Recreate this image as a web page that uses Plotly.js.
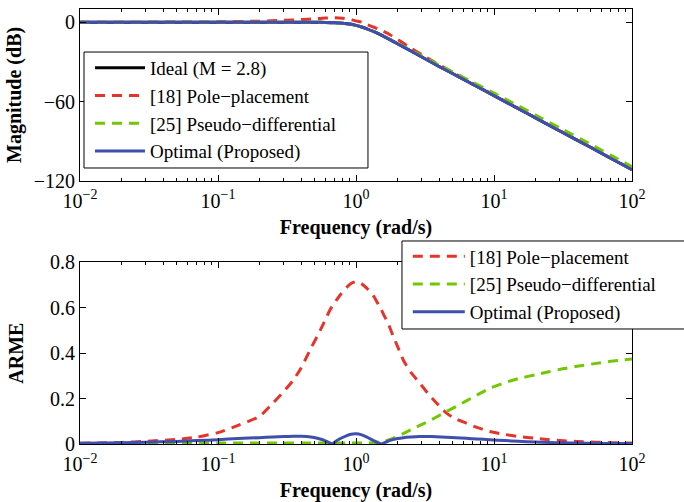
<!DOCTYPE html>
<html>
<head>
<meta charset="utf-8">
<script src="https://cdn.plot.ly/plotly-3.0.1.min.js"></script>
<style>
html,body{margin:0;padding:0;background:#fff;}
#plot{width:684px;height:502px;}
</style>
</head>
<body>
<div id="plot"></div>
<script>
// ---------- Data ----------
// Top panel: magnitude (dB) vs frequency (rad/s)
var freqMag = [0.01, 0.03, 0.1, 0.2, 0.3, 0.4, 0.5, 0.6, 0.7, 0.8, 0.9, 1.0, 1.1, 1.2, 1.35, 1.5, 1.75, 2, 2.5, 3, 4, 5, 7, 10, 15, 20, 30, 50, 70, 100];
var magIdeal   = [0, 0, 0, 0, 0, -0.02, -0.05, -0.15, -0.35, -0.75, -1.4, -2.4, -3.6, -5.0, -7.2, -9.4, -13.0, -16.3, -21.8, -26.3, -33.5, -38.8, -46.9, -55.5, -65.4, -72.4, -82.3, -94.6, -102.9, -111.5];
var magPole    = [0, 0.05, 0.3, 0.8, 1.4, 2.0, 2.6, 3.1, 3.3, 3.0, 2.2, 1.0, 0.0, -1.8, -3.8, -5.8, -9.3, -13.0, -19.6, -24.6, -32.2, -37.9, -46.3, -55.2, -65.2, -72.2, -82.1, -94.4, -102.7, -111.3];
var magPseudo  = [0, 0, 0, 0, 0, -0.02, -0.05, -0.15, -0.35, -0.75, -1.4, -2.4, -3.6, -5.0, -7.1, -9.2, -12.7, -15.9, -21.2, -25.5, -32.4, -37.5, -45.3, -53.6, -63.3, -70.2, -80.0, -92.3, -100.6, -109.3];
var magOptimal = [0, 0, 0, 0, 0, -0.02, -0.05, -0.15, -0.35, -0.75, -1.4, -2.4, -3.6, -5.0, -7.2, -9.4, -13.0, -16.3, -21.8, -26.3, -33.5, -38.8, -46.9, -55.5, -65.4, -72.4, -82.3, -94.6, -102.9, -111.5];

// Bottom panel: ARME vs frequency (rad/s)
var freqArme = [0.01, 0.02, 0.03, 0.05, 0.07, 0.1, 0.14, 0.2, 0.25, 0.3, 0.35, 0.4, 0.47, 0.55, 0.6, 0.65, 0.67, 0.7, 0.77, 0.85, 0.92, 1.0, 1.1, 1.2, 1.33, 1.45, 1.53, 1.6, 1.7, 1.85, 2.0, 2.2, 2.5, 2.9, 3.3, 3.8, 4.5, 5.3, 6.3, 7.5, 9.3, 12, 15, 20, 25, 32, 40, 55, 70, 100];
var armePole    = [0.003, 0.007, 0.012, 0.020, 0.030, 0.050, 0.082, 0.122, 0.180, 0.232, 0.280, 0.335, 0.420, 0.500, 0.548, 0.592, 0.605, 0.622, 0.657, 0.688, 0.707, 0.715, 0.705, 0.685, 0.655, 0.615, 0.590, 0.565, 0.535, 0.478, 0.430, 0.370, 0.315, 0.268, 0.225, 0.183, 0.137, 0.110, 0.092, 0.073, 0.055, 0.042, 0.033, 0.025, 0.019, 0.014, 0.011, 0.008, 0.006, 0.004];
var armePseudo  = [0.002, 0.003, 0.003, 0.004, 0.004, 0.004, 0.004, 0.004, 0.004, 0.004, 0.004, 0.004, 0.004, 0.004, 0.004, 0.004, 0.004, 0.004, 0.004, 0.004, 0.004, 0.004, 0.004, 0.004, 0.005, 0.008, 0.010, 0.013, 0.017, 0.025, 0.034, 0.046, 0.063, 0.082, 0.098, 0.118, 0.142, 0.165, 0.190, 0.215, 0.245, 0.270, 0.288, 0.305, 0.318, 0.332, 0.342, 0.355, 0.364, 0.374];
var armeOptimal = [0.003, 0.006, 0.008, 0.011, 0.015, 0.019, 0.024, 0.028, 0.031, 0.033, 0.034, 0.034, 0.031, 0.022, 0.014, 0.004, 0.000, 0.008, 0.024, 0.036, 0.043, 0.045, 0.040, 0.030, 0.016, 0.005, 0.000, 0.005, 0.012, 0.019, 0.024, 0.028, 0.031, 0.033, 0.033, 0.032, 0.030, 0.028, 0.025, 0.022, 0.019, 0.015, 0.012, 0.009, 0.007, 0.005, 0.004, 0.003, 0.002, 0.002];

var seriesNames = ['Ideal (M = 2.8)', '[18] Pole\u2212placement', '[25] Pseudo\u2212differential', 'Optimal (Proposed)'];
var xTickVals = [0.01, 0.1, 1, 10, 100];
var xTickText = ['10<sup>\u22122</sup>', '10<sup>\u22121</sup>', '10<sup>0</sup>', '10<sup>1</sup>', '10<sup>2</sup>'];
var magTickVals = [-120, -60, 0];
var armeTickVals = [0, 0.2, 0.4, 0.6, 0.8];

// ---------- Styling ----------
var FONT = '"Liberation Serif", "Times New Roman", Times, serif';
var FS = 20, LFS = 19;
var C_BLACK = '#000000', C_RED = '#e5352b', C_GREEN = '#72c800', C_BLUE = '#3f4fae';
var DASH = '10px,7px';
var LW = 3;

var minorVals = [];
for (var d = -2; d < 2; d++) { for (var k = 2; k <= 9; k++) { minorVals.push(k * Math.pow(10, d)); } }

function line(color, dash) { return {color: color, width: LW, dash: dash || 'solid', shape: 'spline', smoothing: 0.6}; }

var traces = [
  {x: freqMag, y: magIdeal, name: seriesNames[0], mode: 'lines', line: line(C_BLACK), xaxis: 'x', yaxis: 'y', legend: 'legend', legendgroup: 'a'},
  {x: freqMag, y: magPole, name: seriesNames[1], mode: 'lines', line: line(C_RED, DASH), xaxis: 'x', yaxis: 'y', legend: 'legend', legendgroup: 'b'},
  {x: freqMag, y: magPseudo, name: seriesNames[2], mode: 'lines', line: line(C_GREEN, DASH), xaxis: 'x', yaxis: 'y', legend: 'legend', legendgroup: 'c'},
  {x: freqMag, y: magOptimal, name: seriesNames[3], mode: 'lines', line: line(C_BLUE), xaxis: 'x', yaxis: 'y', legend: 'legend', legendgroup: 'd'},
  {x: freqArme, y: armePole, name: seriesNames[1], mode: 'lines', line: line(C_RED, DASH), xaxis: 'x2', yaxis: 'y2', legend: 'legend2', legendgroup: 'e'},
  {x: freqArme, y: armePseudo, name: seriesNames[2], mode: 'lines', line: line(C_GREEN, DASH), xaxis: 'x2', yaxis: 'y2', legend: 'legend2', legendgroup: 'f'},
  {x: freqArme, y: armeOptimal, name: seriesNames[3], mode: 'lines', line: line(C_BLUE), xaxis: 'x2', yaxis: 'y2', legend: 'legend2', legendgroup: 'g'}
];

function xAxis(anchor) {
  return {
    type: 'log', range: [-2, 2], anchor: anchor,
    tickmode: 'array', tickvals: xTickVals, ticktext: xTickText,
    ticks: 'inside', ticklen: 6, tickcolor: '#000', tickwidth: 1,
    ticklabelstandoff: 2,
    minor: {tickmode: 'array', tickvals: minorVals, ticks: 'inside', ticklen: 3, tickcolor: '#000', showgrid: false},
    showline: true, linecolor: '#000', linewidth: 1, mirror: 'ticks',
    showgrid: false, zeroline: false,
    tickfont: {family: FONT, size: FS, color: '#000'},
    title: {text: '<b>Frequency (rad/s)</b>', font: {family: FONT, size: FS, color: '#000'}, standoff: 9},
    automargin: false
  };
}

function legendBox(x0, x1, y0, y1) {
  return {type: 'rect', xref: 'paper', yref: 'paper', x0: x0, x1: x1, y0: y0, y1: y1,
          fillcolor: '#fff', line: {color: '#000', width: 1}, layer: 'above'};
}

var layout = {
  width: 684, height: 502,
  margin: {l: 80, r: 52, t: 9, b: 58, autoexpand: false},
  paper_bgcolor: '#fff', plot_bgcolor: '#fff',
  font: {family: FONT, size: FS, color: '#000'},
  showlegend: true,
  xaxis: xAxis('y'),
  xaxis2: xAxis('y2'),
  yaxis: {
    domain: [0.605, 1], range: [-120, 10], anchor: 'x',
    tickmode: 'array', tickvals: magTickVals,
    ticks: 'inside', ticklen: 6, tickcolor: '#000',
    showline: true, linecolor: '#000', linewidth: 1, mirror: 'ticks',
    showgrid: false, zeroline: false,
    tickfont: {family: FONT, size: FS, color: '#000'},
    title: {text: '<b>Magnitude (dB)</b>', font: {family: FONT, size: FS, color: '#000'}, standoff: 6},
    automargin: false
  },
  yaxis2: {
    domain: [0, 0.4177], range: [0, 0.8], anchor: 'x2',
    tickmode: 'array', tickvals: armeTickVals,
    ticks: 'inside', ticklen: 6, tickcolor: '#000',
    showline: true, linecolor: '#000', linewidth: 1, mirror: 'ticks',
    showgrid: false, zeroline: false,
    tickfont: {family: FONT, size: FS, color: '#000'},
    title: {text: '<b>ARME</b>', font: {family: FONT, size: FS, color: '#000'}, standoff: 20},
    automargin: false
  },
  shapes: [
    legendBox(0.00725, 0.5217, 0.6345, 0.9011),
    legendBox(0.5833, 1.2, 0.2644, 0.4667)
  ],
  legend: {
    x: 0.0072, y: 0.908, xanchor: 'left', yanchor: 'top',
    bgcolor: 'rgba(0,0,0,0)', borderwidth: 0,
    font: {family: FONT, size: LFS, color: '#000'},
    itemwidth: 50, indentation: 6, traceorder: 'grouped', tracegroupgap: 0
  },
  legend2: {
    x: 0.583, y: 0.4747, xanchor: 'left', yanchor: 'top',
    bgcolor: 'rgba(0,0,0,0)', borderwidth: 0,
    font: {family: FONT, size: LFS, color: '#000'},
    itemwidth: 52, indentation: 6, traceorder: 'grouped', tracegroupgap: 0
  }
};

Plotly.newPlot('plot', traces, layout, {staticPlot: true});
</script>
</body>
</html>
